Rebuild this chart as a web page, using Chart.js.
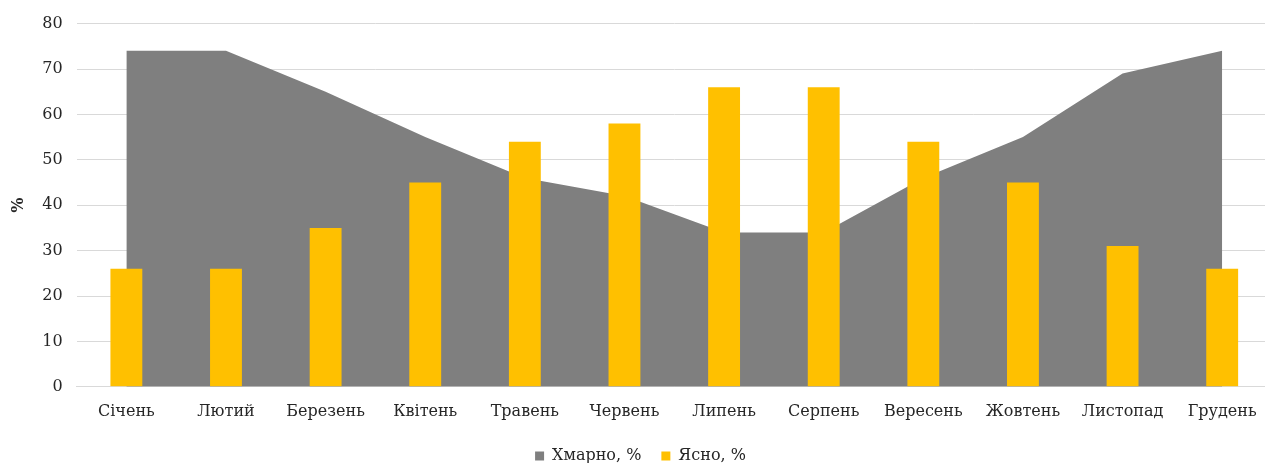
<!DOCTYPE html>
<html>
<head>
<meta charset="utf-8">
<script src="https://cdn.jsdelivr.net/npm/chart.js@4"></script>
<style>
  html, body { margin: 0; padding: 0; background: #fff; overflow: hidden; }
  #wrap { width: 1265px; height: 463px; overflow: hidden; }
</style>
</head>
<body>
<div id="wrap"><canvas id="chart" width="1275" height="474"></canvas></div>
<script>
const months = ["Січень", "Лютий", "Березень", "Квітень", "Травень", "Червень", "Липень", "Серпень", "Вересень", "Жовтень", "Листопад", "Грудень"];
const cloudy = [74, 74, 65, 55, 46, 42, 34, 34, 46, 55, 69, 74];
const clear = [26, 26, 35, 45, 54, 58, 66, 66, 54, 45, 31, 26];

const font = { family: "'DejaVu Serif', serif", size: 16 };
const textColor = "#262626";

new Chart(document.getElementById("chart"), {
    type: "bar",
    data: {
        labels: months,
        datasets: [
            {
                type: "line",
                label: "Хмарно, %",
                data: cloudy,
                backgroundColor: "#7f7f7f",
                borderColor: "#7f7f7f",
                borderWidth: 0,
                pointRadius: 0,
                tension: 0,
                fill: "origin",
                order: 2
            },
            {
                label: "Ясно, %",
                data: clear,
                backgroundColor: "#ffc000",
                barPercentage: 0.32,
                categoryPercentage: 1,
                order: 1
            }
        ]
    },
    options: {
        responsive: false,
        animation: false,
        layout: { padding: { top: 12, right: 3, bottom: 0, left: 9 } },
        plugins: {
            tooltip: { enabled: false },
            legend: {
                position: "bottom",
                labels: {
                    font: font,
                    color: textColor,
                    boxWidth: 9,
                    boxHeight: 9,
                    padding: 20,
                    sort: (a, b) => a.datasetIndex - b.datasetIndex
                }
            }
        },
        scales: {
            x: {
                offset: true,
                grid: { display: false },
                border: { color: "#d9d9d9" },
                ticks: { font: font, color: textColor, maxRotation: 0, padding: 7 }
            },
            y: {
                min: 0,
                max: 80,
                ticks: { stepSize: 10, font: font, color: textColor, padding: 14 },
                grid: { color: "#d9d9d9", drawTicks: false },
                border: { display: false },
                title: { display: true, text: "%", font: { ...font, weight: "bold" }, color: textColor, padding: 0 }
            }
        }
    }
});
</script>
</body>
</html>
